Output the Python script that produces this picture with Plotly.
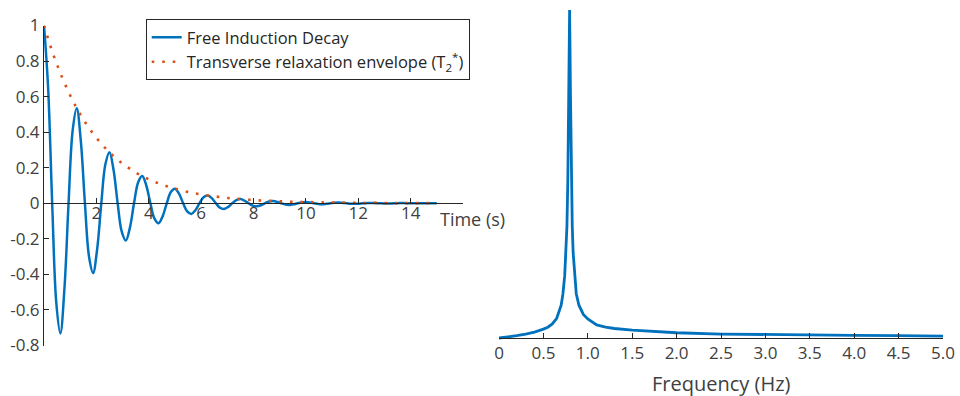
import plotly.graph_objects as go

# ---------------- data ----------------
# Free induction decay, sampled every 1/8 period (0.15625 s), 0 .. 15 s
fid_step_s = 0.15625
fid_signal = [
    1.000, 0.654, 0.000, -0.559, -0.732, -0.478, 0.000, 0.409,
    0.535, 0.350, 0.000, -0.299, -0.392, -0.256, 0.000, 0.219,
    0.287, 0.187, 0.000, -0.160, -0.210, -0.137, 0.000, 0.117,
    0.153, 0.100, 0.000, -0.086, -0.112, -0.073, 0.000, 0.063,
    0.082, 0.054, 0.000, -0.046, -0.060, -0.039, 0.000, 0.034,
    0.044, 0.029, 0.000, -0.025, -0.032, -0.021, 0.000, 0.018,
    0.024, 0.015, 0.000, -0.013, -0.017, -0.011, 0.000, 0.010,
    0.013, 0.008, 0.000, -0.007, -0.009, -0.006, 0.000, 0.005,
    0.007, 0.004, 0.000, -0.004, -0.005, -0.003, 0.000, 0.003,
    0.004, 0.002, 0.000, -0.002, -0.003, -0.002, 0.000, 0.001,
    0.002, 0.001, 0.000, -0.001, -0.001, -0.001, 0.000, 0.001,
    0.001, 0.000, 0.000, 0.000, 0.000, 0.000, 0.000, 0.000,
    0.000,
]
fid_time = [round(i * fid_step_s, 5) for i in range(len(fid_signal))]

# T2* envelope, sampled every 0.3125 s
env_step_s = 0.3125
envelope = [
    1.000, 0.855, 0.732, 0.626, 0.535, 0.458, 0.392, 0.335,
    0.287, 0.245, 0.210, 0.179, 0.153, 0.131, 0.112, 0.096,
    0.082, 0.070, 0.060, 0.051, 0.044, 0.038, 0.032, 0.027,
    0.024, 0.020, 0.017, 0.015, 0.013, 0.011, 0.009, 0.008,
    0.007, 0.006, 0.005, 0.004, 0.004, 0.003, 0.003, 0.002,
    0.002, 0.002, 0.001, 0.001, 0.001, 0.001, 0.001, 0.001,
]
env_time = [round(i * env_step_s, 5) for i in range(len(envelope))]

# Spectrum (normalised magnitude)
freq_hz = [
    0.00, 0.10, 0.20, 0.30, 0.40, 0.50, 0.55, 0.60, 0.65, 0.70,
    0.72, 0.74, 0.755, 0.765, 0.775, 0.785, 0.795, 0.805, 0.815, 0.825,
    0.835, 0.85, 0.87, 0.90, 0.95, 1.00, 1.10, 1.20, 1.30, 1.50,
    1.75, 2.00, 2.50, 3.00, 3.50, 4.00, 4.50, 5.00,
]
spectrum = [
    0.000, 0.003, 0.007, 0.012, 0.018, 0.027, 0.033, 0.043, 0.060, 0.100,
    0.135, 0.190, 0.260, 0.340, 0.480, 0.740, 1.000, 0.740, 0.480, 0.340,
    0.260, 0.190, 0.135, 0.100, 0.072, 0.058, 0.040, 0.033, 0.029, 0.024,
    0.019, 0.016, 0.012, 0.010, 0.009, 0.008, 0.007, 0.006,
]

y_ticks = [1, 0.8, 0.6, 0.4, 0.2, 0, -0.2, -0.4, -0.6, -0.8]
y_ticktext = ["1", "0.8", "0.6", "0.4", "0.2", "0", "-0.2", "-0.4", "-0.6", "-0.8"]
t_ticks = [2, 4, 6, 8, 10, 12, 14]
t_ticktext = ["2", "4", "6", "8", "10", "12", "14"]
t_extra_ticks = [16]
f_ticks = [0, 0.5, 1.0, 1.5, 2.0, 2.5, 3.0, 3.5, 4.0, 4.5, 5.0]
f_ticktext = ["0", "0.5", "1.0", "1.5", "2.0", "2.5", "3.0", "3.5", "4.0", "4.5", "5.0"]

# ---------------- style ----------------
W, H = 960, 396
BLUE = "#0072BD"
ORANGE = "#D95319"
AXC = "#262626"
TXT = "#404040"
FONT = "Open Sans"

def px_x(p):
    return p / W

def px_y(p):
    return 1 - p / H

fig = go.Figure()

fig.add_trace(go.Scatter(
    x=fid_time, y=fid_signal, mode="lines", name="Free Induction Decay",
    line=dict(color=BLUE, width=2.5, shape="spline", smoothing=1.0),
    xaxis="x", yaxis="y",
))
fig.add_trace(go.Scatter(
    x=env_time, y=envelope, mode="lines",
    name="Transverse relaxation envelope (T<sub>2</sub><sup>*</sup>)",
    line=dict(color=ORANGE, width=2.6, dash="2.6px,7.9px", shape="spline"),
    xaxis="x", yaxis="y",
))
fig.add_trace(go.Scatter(
    x=freq_hz, y=spectrum, mode="lines", showlegend=False,
    line=dict(color=BLUE, width=2.8),
    xaxis="x2", yaxis="y2",
))

tickfont = dict(family=FONT, size=17, color=TXT)

fig.update_layout(
    width=W, height=H,
    margin=dict(l=0, r=0, t=0, b=0, autoexpand=False),
    paper_bgcolor="white", plot_bgcolor="white",
    font=dict(family=FONT, color=TXT),
    xaxis=dict(
        domain=[px_x(44), px_x(463)], range=[0, 16],
        anchor="free", position=px_y(203.3), automargin=False,
        showline=True, linecolor=AXC, linewidth=1,
        ticks="inside", ticklen=5, tickcolor=AXC,
        tickvals=t_ticks, ticktext=t_ticktext, tickfont=tickfont,
        ticklabelstandoff=-6,
        minor=dict(tickmode="array", tickvals=t_extra_ticks, ticks="inside",
                   ticklen=5, tickcolor=AXC, showgrid=False),
        showgrid=False, zeroline=False,
    ),
    yaxis=dict(
        domain=[px_y(345.5), px_y(25.5)], range=[-0.8, 1],
        anchor="x", automargin=False,
        showline=True, linecolor=AXC, linewidth=1,
        ticks="inside", ticklen=5, tickcolor=AXC,
        tickvals=y_ticks, ticktext=y_ticktext, tickfont=tickfont,
        showgrid=False, zeroline=False,
    ),
    xaxis2=dict(
        domain=[px_x(499), px_x(943)], range=[0, 5],
        anchor="free", position=px_y(338), automargin=False,
        showline=True, linecolor=AXC, linewidth=1,
        ticks="inside", ticklen=5, tickcolor=AXC,
        tickvals=f_ticks, ticktext=f_ticktext, tickfont=tickfont,
        showgrid=False, zeroline=False,
    ),
    yaxis2=dict(
        domain=[px_y(344.56), px_y(10)], range=[-0.02, 1],
        anchor="x2", visible=False, automargin=False,
    ),
    legend=dict(
        x=px_x(145.7), y=px_y(19), xanchor="left", yanchor="top",
        bgcolor="white", bordercolor=AXC, borderwidth=1,
        font=dict(family=FONT, size=16.5, color=AXC),
        tracegroupgap=0,
    ),
    annotations=[
        dict(text="Time (s)", xref="paper", yref="paper",
             x=px_x(438), y=px_y(218.5), xanchor="left", yanchor="middle",
             showarrow=False, font=dict(family=FONT, size=18, color=TXT)),
        dict(text="Frequency (Hz)", xref="paper", yref="paper",
             x=px_x(721), y=px_y(383), xanchor="center", yanchor="middle",
             showarrow=False, font=dict(family=FONT, size=20, color=TXT)),
    ],
)

fig.write_html("out.html")
